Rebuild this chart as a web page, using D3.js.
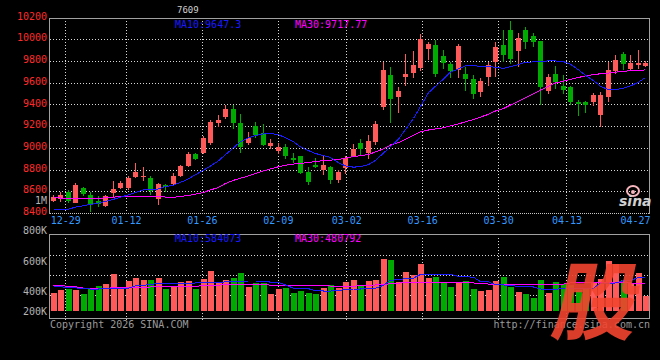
<!DOCTYPE html>
<html><head><meta charset="utf-8">
<script src="https://cdn.jsdelivr.net/npm/d3@7"></script>
<style>
html,body{margin:0;padding:0;background:#000;}
svg{display:block;background:#000;}
text{font-family:"DejaVu Sans Mono","Liberation Mono",monospace;font-size:10px;}
</style></head><body>
<svg id="chart" width="660" height="360"></svg>
<script>
// ---------- data ----------
const dates = ["12-25","12-26","12-29","12-30","12-31","01-05","01-06","01-07","01-08","01-09",
"01-12","01-13","01-14","01-15","01-16","01-19","01-20","01-21","01-22","01-23",
"01-26","01-27","01-28","01-29","01-30","02-02","02-03","02-04","02-05","02-06",
"02-09","02-10","02-11","02-12","02-13","02-24","02-25","02-26","02-27","03-02",
"03-03","03-04","03-05","03-06","03-09","03-10","03-11","03-12","03-13","03-16",
"03-17","03-18","03-19","03-20","03-23","03-24","03-25","03-26","03-27","03-30",
"03-31","04-01","04-02","04-03","04-07","04-08","04-09","04-10","04-13","04-14",
"04-15","04-16","04-17","04-20","04-21","04-22","04-23","04-24","04-27","04-28"];
const open = [8513,8529,8596,8495,8630,8563,8510,8464,8587,8627,
8627,8734,8734,8725,8526,8657,8667,8740,8835,8945,
8955,9046,9232,9285,9356,9225,9046,9200,9133,9019,
8973,9004,8903,8924,8780,8841,8795,8820,8703,8811,
8924,9046,8950,9056,9377,9669,9469,9648,9690,9736,
9908,9945,9846,9776,9721,9678,9638,9515,9648,9791,
9945,10083,9892,10083,10028,9981,9525,9684,9568,9556,
9423,9420,9423,9301,9469,9706,9862,9730,9761,9758];
const high = [8570,8593,8611,8679,8640,8596,8555,8565,8694,8697,
8739,8862,8820,8740,8679,8667,8768,8840,8958,8950,
9106,9260,9305,9393,9390,9310,9148,9240,9220,9084,
9041,9035,8955,8924,8820,8903,8924,8830,8800,8925,
9035,9084,9120,9248,9791,9745,9556,9862,9890,10046,
9975,9997,9905,9791,9960,9745,9669,9639,9791,9975,
10083,10168,10058,10113,10058,9981,9678,9751,9669,9570,
9439,9430,9506,9515,9791,9853,9883,9853,9899,9800];
const low = [8500,8501,8489,8489,8560,8405,8455,8455,8550,8620,
8612,8719,8697,8563,8474,8596,8660,8735,8826,8890,
8940,9030,9190,9265,9170,8955,9030,9090,9020,8985,
8940,8900,8860,8762,8657,8810,8750,8670,8675,8763,
8915,8924,8900,9030,9347,9230,9320,9568,9644,9709,
9807,9648,9730,9639,9639,9525,9448,9470,9568,9653,
9791,9776,9745,9914,9929,9393,9494,9546,9500,9393,
9292,9317,9384,9194,9423,9678,9715,9720,9730,9745];
const close = [8544,8566,8513,8657,8575,8474,8483,8556,8618,8679,
8725,8780,8743,8602,8667,8636,8743,8835,8945,8897,
9092,9237,9260,9356,9230,9004,9087,9117,9025,9041,
9004,8927,8887,8771,8688,8820,8841,8703,8780,8903,
8988,8988,9062,9218,9715,9448,9525,9678,9761,10006,
9954,9678,9785,9709,9936,9632,9494,9614,9761,9929,
9853,9816,10012,9975,9975,9561,9648,9607,9531,9423,
9405,9393,9485,9485,9721,9813,9770,9782,9782,9782];
const ma10 = [8428,8428,8435,8454,8467,8479,8491,8508,8526,8545,
8568,8589,8612,8618,8621,8643,8657,8682,8714,8753,
8794,8833,8880,8938,9000,9057,9091,9114,9128,9133,
9121,9093,9055,9009,8975,8948,8928,8911,8863,8833,
8822,8827,8845,8885,8952,9011,9080,9168,9270,9381,
9507,9567,9634,9696,9728,9754,9755,9752,9748,9742,
9731,9747,9766,9788,9791,9791,9801,9800,9794,9769,
9718,9668,9619,9567,9535,9536,9550,9570,9605,9647.3];
const ma30 = [8541,8538,8535,8535,8535,8535,8535,8540,8546,8552,
8556,8556,8556,8556,8552,8547,8544,8552,8561,8573,
8589,8612,8635,8672,8701,8720,8742,8765,8787,8806,
8826,8840,8851,8857,8864,8874,8883,8887,8892,8906,
8920,8927,8939,8962,8991,9026,9048,9080,9114,9148,
9164,9174,9185,9203,9220,9240,9260,9283,9309,9339,
9362,9394,9428,9463,9498,9532,9567,9597,9613,9631,
9648,9662,9674,9682,9688,9696,9705,9710,9712,9717.77];
// volume, in thousands
const volume = [320,367,380,367,297,408,437,472,647,397,
525,582,542,542,582,390,437,507,525,390,
560,700,507,542,572,670,425,485,485,297,
380,397,320,355,320,297,402,455,408,512,
542,437,525,542,910,892,512,688,630,822,
572,600,507,425,485,525,385,350,367,525,
590,425,338,297,233,542,320,507,472,455,
367,402,490,560,880,822,542,490,670,262];
const volMa10 = [425,425,410,405,388,385,385,392,397,397,
400,440,445,470,475,485,485,485,488,490,
495,497,500,510,515,522,525,525,522,505,
500,455,400,397,390,355,350,350,352,380,
385,385,395,400,450,540,545,570,575,640,
647,647,645,640,605,600,590,515,510,460,
455,452,428,425,420,385,380,380,395,397,
397,397,400,485,487,490,530,535,585,584.073];
const volMa30 = [450,448,430,425,400,397,397,398,405,408,
408,408,410,420,425,425,425,427,428,430,
445,450,452,468,472,472,472,472,470,450,
445,443,443,443,443,443,442,437,437,437,
437,438,452,455,458,482,487,500,502,502,
502,500,495,495,495,494,492,475,472,472,
472,472,472,472,472,472,472,472,472,490,
493,494,495,495,495,495,494,490,485,480.792];
const priceTicks = [8400,8600,8800,9000,9200,9400,9600,9800,10000,10200];
const volTicks = [200,400,600,800,1000];
const dateLabels = ["12-29","01-12","01-26","02-09","03-02","03-16","03-30","04-13","04-27"];

// ---------- colours ----------
const UP = "#ff5a5a", DOWN = "#00aa00", C10 = "#1a1aff", C30 = "#ff00ff";

const svg = d3.select("#chart");
const n = dates.length;
const L = 50, R = 650, mTop = 18, mBot = 213, vTop = 234, vBot = 318;

const xBand = d3.scaleBand().domain(dates).range([L, R]).paddingInner(0.2).paddingOuter(0.1).align(0);
const xPoint = d3.scalePoint().domain(dates).range([L, R]);
const yPrice = d3.scaleLinear().domain([8400, 10200]).range([mBot, 17.5]);
const yVol = d3.scaleLinear().domain([0, 1400]).range([311, 231]);
const yVolLabel = d3.scaleLinear().domain(volTicks).range([311, 291, 261, 230, 200]);
const cx = i => Math.floor(xBand(dates[i]) + xBand.bandwidth() / 2);

// ---------- grid ----------
const grid = svg.append("g").attr("stroke", "#d8d8d8").attr("stroke-dasharray", "1,2").attr("shape-rendering", "crispEdges");
grid.selectAll("line.h").data(priceTicks.filter(v => v > 8400 && v < 10200)).join("line")
  .attr("x1", L).attr("x2", R).attr("y1", d => Math.round(yPrice(d)) + 0.5).attr("y2", d => Math.round(yPrice(d)) + 0.5);
grid.selectAll("line.hv").data(["255", "275", "295"].map(Number)).join("line")
  .attr("x1", L).attr("x2", R).attr("y1", d => d + 0.5).attr("y2", d => d + 0.5);
const gridDates = dateLabels.filter(d => xPoint(d) < R - 12);
grid.selectAll("line.v").data(gridDates).join("line")
  .attr("x1", d => Math.round(xPoint(d)) + 0.5).attr("x2", d => Math.round(xPoint(d)) + 0.5)
  .attr("y1", mTop).attr("y2", mBot);
grid.selectAll("line.vv").data(gridDates).join("line")
  .attr("x1", d => Math.round(xPoint(d)) + 0.5).attr("x2", d => Math.round(xPoint(d)) + 0.5)
  .attr("y1", vTop + 4).attr("y2", vBot + 2);

// ---------- candles ----------
const cg = svg.append("g").attr("shape-rendering", "crispEdges");
const idx = d3.range(n);
const col = i => close[i] >= open[i] ? UP : DOWN;
cg.selectAll("line.w").data(idx).join("line")
  .attr("x1", i => cx(i) + 0.5).attr("x2", i => cx(i) + 0.5)
  .attr("y1", i => yPrice(high[i])).attr("y2", i => yPrice(low[i]))
  .attr("stroke", col);
cg.selectAll("rect.b").data(idx).join("rect")
  .attr("x", i => cx(i) - 2).attr("width", 5)
  .attr("y", i => yPrice(Math.max(open[i], close[i])))
  .attr("height", i => Math.max(1, Math.abs(yPrice(open[i]) - yPrice(close[i]))))
  .attr("fill", col);

// ---------- volume bars ----------
cg.selectAll("rect.v").data(idx).join("rect")
  .attr("x", i => cx(i) - 2).attr("width", 6)
  .attr("y", i => yVol(volume[i]))
  .attr("height", i => yVol(0) - yVol(volume[i]))
  .attr("fill", col);

// ---------- MA lines ----------
const lineP = arr => d3.line().x((d, i) => cx(i) + 0.5).y(d => yPrice(d))(arr);
const lineV = arr => d3.line().x((d, i) => cx(i) + 0.5).y(d => yVol(d))(arr);
const lg = svg.append("g").attr("fill", "none").attr("stroke-width", 1).attr("shape-rendering", "crispEdges");
lg.append("path").attr("d", lineP(ma30)).attr("stroke", C30);
lg.append("path").attr("d", lineP(ma10)).attr("stroke", C10);
lg.append("path").attr("d", lineV(volMa30)).attr("stroke", C30);
lg.append("path").attr("d", lineV(volMa10)).attr("stroke", C10);

// ---------- borders ----------
const bg = svg.append("g").attr("shape-rendering", "crispEdges");
bg.append("line").attr("x1", L).attr("x2", R).attr("y1", mTop + 0.5).attr("y2", mTop + 0.5).attr("stroke", "#a0a0a0");
bg.append("line").attr("x1", L - 0.5).attr("x2", L - 0.5).attr("y1", mTop).attr("y2", mBot + 1).attr("stroke", "#a0a0a0");
bg.append("line").attr("x1", R - 0.5).attr("x2", R - 0.5).attr("y1", mTop).attr("y2", mBot + 1).attr("stroke", "#a0a0a0");
bg.append("line").attr("x1", L).attr("x2", R).attr("y1", mBot + 0.5).attr("y2", mBot + 0.5).attr("stroke", "#c8c8c8").attr("stroke-dasharray", "1,1");
bg.append("line").attr("x1", L).attr("x2", R).attr("y1", vTop + 0.5).attr("y2", vTop + 0.5).attr("stroke", "#a0a0a0");
bg.append("line").attr("x1", L - 0.5).attr("x2", L - 0.5).attr("y1", vTop).attr("y2", vBot + 1).attr("stroke", "#a0a0a0");
bg.append("line").attr("x1", R - 0.5).attr("x2", R - 0.5).attr("y1", vTop).attr("y2", vBot + 1).attr("stroke", "#a0a0a0");
bg.append("line").attr("x1", L).attr("x2", R).attr("y1", vBot + 0.5).attr("y2", vBot + 0.5).attr("stroke", "#a0a0a0");

// ---------- axes ----------
const ay = svg.append("g").attr("transform", "translate(47,-1.5)")
  .call(d3.axisLeft(yPrice).tickValues(priceTicks).tickSize(0).tickPadding(0).tickFormat(d3.format("d")));
ay.select(".domain").remove();
ay.selectAll("text").attr("fill", "#ff2a2a").style("font-family", '"DejaVu Sans Mono",monospace').style("font-size", "10px");

const av = svg.append("g").attr("transform", "translate(47,0)")
  .call(d3.axisLeft(yVolLabel).tickValues(volTicks).tickSize(0).tickPadding(0)
    .tickFormat(d => d >= 1000 ? (d / 1000) + "M" : d + "K"));
av.select(".domain").remove();
av.selectAll("text").attr("fill", "#b4b4b4").style("font-family", '"DejaVu Sans Mono",monospace').style("font-size", "10px");

const ax = svg.append("g").attr("transform", `translate(0,${mBot})`)
  .call(d3.axisBottom(xPoint).tickValues(dateLabels).tickSize(0).tickPadding(3.5));
ax.select(".domain").remove();
ax.selectAll("text").attr("fill", "#3399ff").style("font-family", '"DejaVu Sans Mono",monospace').style("font-size", "10px");
ax.selectAll(".tick").filter(d => xPoint(d) > R - 16).select("text")
  .attr("text-anchor", "end").attr("x", d => R - xPoint(d));

// ---------- header texts ----------
const fmtV = v => String(Math.round(v * 1000));
svg.append("text").attr("x", 177).attr("y", 13).attr("fill", "#cfcfcf").style("font-size", "9px").text("7609");
svg.append("text").attr("x", 175).attr("y", 27.5).attr("fill", C10).text("MA10:" + ma10[n - 1]);
svg.append("text").attr("x", 295).attr("y", 27.5).attr("fill", C30).text("MA30:" + ma30[n - 1]);
svg.append("text").attr("x", 175).attr("y", 242).attr("fill", C10).text("MA10:" + fmtV(volMa10[n - 1]));
svg.append("text").attr("x", 295).attr("y", 242).attr("fill", C30).text("MA30:" + fmtV(volMa30[n - 1]));
svg.append("text").attr("x", L).attr("y", 327.5).attr("fill", "#9a9a9a").text("Copyright 2026 SINA.COM");
svg.append("text").attr("x", R).attr("y", 327.5).attr("text-anchor", "end").attr("fill", "#9a9a9a").text("http://finance.sina.com.cn");

// ---------- sina logo ----------
const logo = svg.append("g");
logo.append("ellipse").attr("cx", 633).attr("cy", 191).attr("rx", 6).attr("ry", 5)
  .attr("fill", "none").attr("stroke", "#f7b6be").attr("stroke-width", 2);
logo.append("circle").attr("cx", 633).attr("cy", 192).attr("r", 2).attr("fill", "#f7b6be");
logo.append("text").attr("x", 619).attr("y", 206).attr("fill", "#d0d0d0")
  .style("font-family", '"DejaVu Sans",sans-serif').style("font-size", "14px")
  .style("font-style", "italic").style("font-weight", "bold").text("sina");

// ---------- watermark ----------
svg.append("text").attr("transform", "translate(549,333) skewX(-12)")
  .attr("fill", "#f2452f").attr("fill-opacity", 0.9)
  .style("font-family", '"Noto Sans CJK SC",sans-serif').style("font-size", "85px").style("font-weight", "bold")
  .text("股");
</script>
</body></html>
